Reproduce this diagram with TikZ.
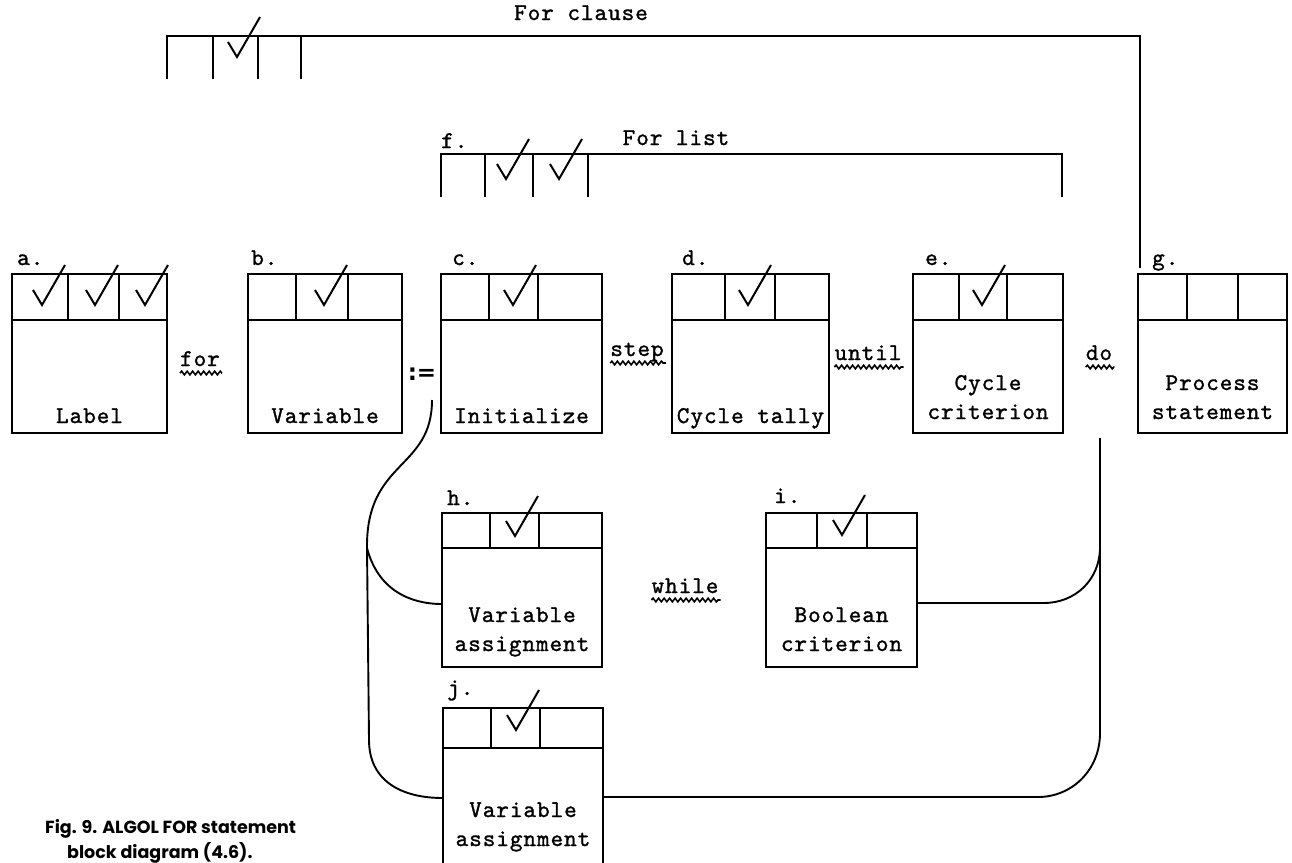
\documentclass[tikz,border=0pt]{standalone}
\usepackage{fontspec}
\usetikzlibrary{calc,decorations.pathmorphing}
\newfontfamily\tw{lmmono10-regular}[Extension=.otf, LetterSpace=4, FakeBold=1.2]
\newfontfamily\capf{Poppins}
\newfontfamily\dvb{DejaVu Sans}
\tikzset{
  boxline/.style={line width=2.2pt},
  box/.style={draw, line width=2.2pt, rectangle, inner sep=0pt, outer sep=0pt, anchor=north west},
  txt/.style={font=\tw\fontsize{24}{29}\selectfont, inner sep=0pt, anchor=base},
  lbl/.style={font=\tw\fontsize{24}{29}\selectfont, inner sep=0pt, anchor=base west},
  chkline/.style={line width=2pt, line join=miter},
  wire/.style={line width=1.9pt},
  wavy/.style={line width=1.6pt, decorate, decoration={snake, segment length=5.5pt, amplitude=1.8pt}},
  capt/.style={font=\capf\bfseries\fontsize{17.5}{20}\selectfont, inner sep=0pt, anchor=base west},
}
\newcommand\strip[4]{%
  \draw[boxline] ($(#1.north west)+(0,#2)$) -- ($(#1.north east)+(0,#2)$);
  \draw[boxline] ($(#1.north west)+(#3,0)$) -- ($(#1.north west)+(#3,#2)$);
  \draw[boxline] ($(#1.north west)+(#4,0)$) -- ($(#1.north west)+(#4,#2)$);}
\newcommand\chk[3]{\draw[chkline] ($(#1)+(#2,#3)+(-9,-15)$) -- ($(#1)+(#2,#3)$) -- ($(#1)+(#2,#3)+(23,-40)$);}
\begin{document}
\begin{tikzpicture}[x=1pt,y=-1pt]
\useasboundingbox (0,0) rectangle (1292,862);
\fill[white] (0,0) rectangle (1292,862);
\begin{scope}
\clip (0,0) rectangle (1292,862);
% boxes
\node[box, minimum width=155pt, minimum height=159pt] (a) at (12,274) {};
\node[box, minimum width=154pt, minimum height=159pt] (b) at (248,274) {};
\node[box, minimum width=161pt, minimum height=159pt] (c) at (441,274) {};
\node[box, minimum width=157pt, minimum height=159pt] (d) at (672,274) {};
\node[box, minimum width=150pt, minimum height=159pt] (e) at (913,274) {};
\node[box, minimum width=149pt, minimum height=159pt] (g) at (1138,274) {};
\node[box, minimum width=160pt, minimum height=154pt] (h) at (442,513) {};
\node[box, minimum width=151pt, minimum height=154pt] (i) at (766,513) {};
\node[box, minimum width=160pt, minimum height=160pt] (j) at (443,708) {};
\strip{a}{46}{56}{107}
\strip{b}{46}{48}{100}
\strip{c}{46}{48}{97}
\strip{d}{46}{53}{103}
\strip{e}{46}{46}{94}
\strip{g}{46}{49}{100}
\strip{h}{35}{48}{97}
\strip{i}{35}{51}{101}
\strip{j}{40}{48}{97}
\chk{a.north west}{30}{31}\chk{a.north west}{83}{31}\chk{a.north west}{133}{31}
\chk{b.north west}{76}{31}
\chk{c.north west}{72}{31}
\chk{d.north west}{76}{31}
\chk{e.north west}{69}{31}
\chk{h.north west}{73}{23}
\chk{i.north west}{76}{22}
\chk{j.north west}{73}{22}
% box labels
\node[lbl] (la) at ($(a.north west)+(5,-9)$) {a.};
\node[lbl] (lb) at ($(b.north west)+(3,-9)$) {b.};
\node[lbl] (lc) at ($(c.north west)+(11,-9)$) {c.};
\node[lbl] (ld) at ($(d.north west)+(10,-9)$) {d.};
\node[lbl] (le) at ($(e.north west)+(12,-9)$) {e.};
\node[lbl] (lg) at ($(g.north west)+(14,-9)$) {g.};
\node[lbl] (lh) at ($(h.north west)+(5,-8)$) {h.};
\node[lbl] (li) at ($(i.north west)+(8,-10)$) {i.};
\node[lbl] (lj) at ($(j.north west)+(4,-13)$) {j.};
% box texts
\node[txt] (ta) at ($(a.south)+(0,-10)$) {Label};
\node[txt] (tb) at ($(b.south)+(0,-10)$) {Variable};
\node[txt] (tc) at ($(c.south)+(0,-10)$) {Initialize};
\node[txt] (td) at ($(d.south)+(0,-10)$) {Cycle tally};
\node[txt] (te1) at ($(e.south)+(0,-43)$) {Cycle};
\node[txt] (te2) at ($(e.south)+(0,-14)$) {criterion};
\node[txt] (tg1) at ($(g.south)+(0,-43)$) {Process};
\node[txt] (tg2) at ($(g.south)+(0,-14)$) {statement};
\node[txt] (th1) at ($(h.south)+(0,-45)$) {Variable};
\node[txt] (th2) at ($(h.south)+(0,-16)$) {assignment};
\node[txt] (ti1) at ($(i.south)+(0,-45)$) {Boolean};
\node[txt] (ti2) at ($(i.south)+(0,-16)$) {criterion};
\node[txt] (tj1) at ($(j.north)+(0,109)$) {Variable};
\node[txt] (tj2) at ($(j.north)+(0,138)$) {assignment};
% For clause bracket
\coordinate (fcA) at (167,79);
\coordinate (fcB) at (167,36);
\coordinate (fcC) at (1140,36);
\coordinate (fcD) at ($(g.north west)+(2,-6)$);
\draw[boxline] (fcA) -- (fcB) -- (fcC) -- (fcD);
\foreach \x in {213,258,301} \draw[boxline] (\x,36) -- (\x,79);
\chk{fcB}{70}{21}
\node[txt] (forclause) at (581,20) {For clause};
% For list bracket
\coordinate (flA) at (441,197);
\coordinate (flB) at (441,154);
\coordinate (flC) at (1062,154);
\coordinate (flD) at (1062,197);
\draw[boxline] (flA) -- (flB) -- (flC) -- (flD);
\foreach \x in {485,533,588} \draw[boxline] (\x,154) -- (\x,197);
\chk{flB}{65}{25}\chk{flB}{118}{25}
\node[lbl] (lf) at ($(flB)+(0,-6)$) {f.};
\node[txt] (forlist) at (676,145) {For list};
% connector words
\node[txt] (wfor) at (200,366) {for};
\node[txt] (wstep) at (637,356) {step};
\node[txt] (wuntil) at (868,360) {until};
\node[txt] (wdo) at (1099,360) {do};
\node[txt] (wwhile) at (685,593) {while};
\foreach \w in {wfor,wstep,wuntil,wdo,wwhile}
  \draw[wavy] ($(\w.base west)+(0,7)$) -- ($(\w.base east)+(2,7)$);
\node[font=\dvb\bfseries\fontsize{23}{23}\selectfont, inner sep=0pt] (asg) at (422,374) {:=};
% left wiring
\coordinate (asgB) at (432,400);
\coordinate (lJ) at (367,548);
\draw[wire] (asgB) .. controls (432,470) and (366,460) .. (lJ) -- (369,740)
  .. controls (369,780) and (400,798) .. ($(j.north west)+(0,90)$);
\draw[wire] (lJ) .. controls (378,590) and (410,604) .. ($(h.north west)+(0,91)$);
% right wiring
\coordinate (doT) at (1100,438);
\draw[wire] (doT) -- (1100,733) .. controls (1100,770) and (1072,797) .. (1038,797) -- ($(j.north east)+(0,89)$);
\draw[wire] ($(i.north east)+(0,90)$) -- (1044,603) .. controls (1075,603) and (1100,580) .. (1100,547);
% caption
\node[capt] (cap1) at (45,833) {Fig. 9. ALGOL FOR statement};
\node[capt] (cap2) at (67,858) {block diagram (4.6).};
\end{scope}
\end{tikzpicture}
\end{document}
